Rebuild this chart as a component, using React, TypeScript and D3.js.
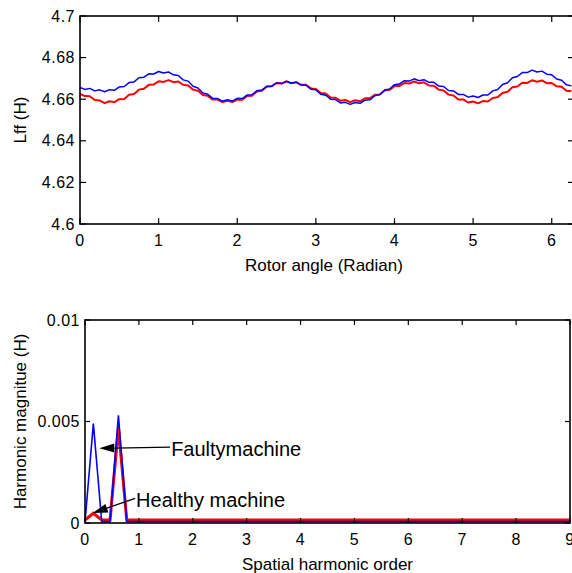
import React from 'react';
import * as d3 from 'd3';

// ---------- Top panel: field self-inductance vs rotor angle ----------
const angleStep = 0.0625; // rad between samples
const lffFaulty = [
  4.6656, 4.6647, 4.6652, 4.6640, 4.6645, 4.6636, 4.6646, 4.6643, 4.6659, 4.6661,
  4.6680, 4.6683, 4.6703, 4.6706, 4.6722, 4.6721, 4.6733, 4.6726, 4.6731, 4.6717,
  4.6714, 4.6693, 4.6687, 4.6662, 4.6654, 4.6630, 4.6624, 4.6604, 4.6603, 4.6590,
  4.6597, 4.6591, 4.6604, 4.6603, 4.6620, 4.6622, 4.6641, 4.6644, 4.6662, 4.6663,
  4.6678, 4.6675, 4.6686, 4.6677, 4.6682, 4.6668, 4.6667, 4.6648, 4.6645, 4.6624,
  4.6619, 4.6600, 4.6598, 4.6582, 4.6585, 4.6575, 4.6584, 4.6580, 4.6595, 4.6597,
  4.6617, 4.6622, 4.6644, 4.6649, 4.6670, 4.6673, 4.6689, 4.6687, 4.6698, 4.6689,
  4.6694, 4.6681, 4.6681, 4.6663, 4.6661, 4.6642, 4.6640, 4.6623, 4.6623, 4.6610,
  4.6615, 4.6608, 4.6620, 4.6620, 4.6640, 4.6647, 4.6671, 4.6679, 4.6703, 4.6709,
  4.6728, 4.6728, 4.6740, 4.6731, 4.6735, 4.6720, 4.6717, 4.6697, 4.6691, 4.6669,
  4.6664,
];
const lffHealthy = [
  4.6626, 4.6615, 4.6614, 4.6596, 4.6594, 4.6581, 4.6590, 4.6586, 4.6600, 4.6601,
  4.6621, 4.6625, 4.6646, 4.6650, 4.6669, 4.6671, 4.6686, 4.6683, 4.6692, 4.6682,
  4.6685, 4.6669, 4.6666, 4.6646, 4.6641, 4.6620, 4.6616, 4.6598, 4.6598, 4.6586,
  4.6592, 4.6586, 4.6598, 4.6597, 4.6615, 4.6617, 4.6637, 4.6641, 4.6660, 4.6662,
  4.6678, 4.6675, 4.6686, 4.6677, 4.6682, 4.6669, 4.6669, 4.6652, 4.6649, 4.6630,
  4.6627, 4.6608, 4.6607, 4.6593, 4.6596, 4.6586, 4.6595, 4.6590, 4.6604, 4.6604,
  4.6621, 4.6623, 4.6642, 4.6645, 4.6663, 4.6663, 4.6678, 4.6675, 4.6685, 4.6676,
  4.6681, 4.6666, 4.6665, 4.6646, 4.6642, 4.6622, 4.6618, 4.6599, 4.6599, 4.6584,
  4.6589, 4.6580, 4.6591, 4.6589, 4.6606, 4.6610, 4.6630, 4.6636, 4.6657, 4.6661,
  4.6679, 4.6678, 4.6691, 4.6684, 4.6690, 4.6677, 4.6678, 4.6662, 4.6660, 4.6641,
  4.6638,
];
const topXTicks = [0, 1, 2, 3, 4, 5, 6];
const topYTicks = [4.6, 4.62, 4.64, 4.66, 4.68, 4.7];
const topYTickLabels = ['4.6', '4.62', '4.64', '4.66', '4.68', '4.7'];

// ---------- Bottom panel: harmonic spectrum ----------
const harmonicOrder = [0, 0.155, 0.31, 0.465, 0.62, 0.775, 9];
const faultyMagnitude = [0.00005, 0.0049, 0.00007, 0.00007, 0.0053, 0.00007, 0.00007];
const healthyMagnitude = [0.00015, 0.00048, 0.00015, 0.00015, 0.0047, 0.00015, 0.00015];
const bottomXTicks = [0, 1, 2, 3, 4, 5, 6, 7, 8, 9];
const bottomYTicks = [0, 0.005, 0.01];
const bottomYTickLabels = ['0', '0.005', '0.01'];

const annotationLabels = ['Faultymachine', 'Healthy machine'];
const annotationTextAt = [[1.58, 0.00374], [0.93, 0.00121]];
const annotationTipAt = [[0.265, 0.00368], [0.143, 0.00049]];

const FONT = "'Liberation Sans', Arial, Helvetica, sans-serif";
const BLUE = '#0000ff';
const RED = '#ff0000';

function Frame({ x, y, xTicks, yTicks, yLabels, tickLen = 5 }: any) {
  const [x0, x1] = x.range();
  const [y0, y1] = y.range(); // y0 bottom, y1 top
  return (
    <g>
      {xTicks.map((t: number) => (
        <g key={'xt' + t}>
          <line x1={x(t)} x2={x(t)} y1={y0} y2={y0 - tickLen} stroke="#000" strokeWidth={1.2} />
          <line x1={x(t)} x2={x(t)} y1={y1} y2={y1 + tickLen} stroke="#000" strokeWidth={1.2} />
          <text x={x(t)} y={y0 + 22} textAnchor="middle" fontSize={16} fontFamily={FONT} letterSpacing={0.5}>{t}</text>
        </g>
      ))}
      {yTicks.map((t: number, i: number) => (
        <g key={'yt' + t}>
          <line x1={x0} x2={x0 + tickLen} y1={y(t)} y2={y(t)} stroke="#000" strokeWidth={1.2} />
          <line x1={x1} x2={x1 - tickLen} y1={y(t)} y2={y(t)} stroke="#000" strokeWidth={1.2} />
          <text x={x0 - 5} y={y(t)} dy="0.35em" textAnchor="end" fontSize={16} fontFamily={FONT} letterSpacing={0.5}>{yLabels[i]}</text>
        </g>
      ))}
      <rect x={x0} y={y1} width={x1 - x0} height={y0 - y1} fill="none" stroke="#000" strokeWidth={1.6} />
    </g>
  );
}

export default function App() {
  // Top scales
  const xTop = d3.scaleLinear().domain([0, 2 * Math.PI]).range([80, 574]);
  const yTop = d3.scaleLinear().domain([4.6, 4.7]).range([224, 16]);
  const lineTop = d3.line<number>().x((_, i) => xTop(i * angleStep)).y((d) => yTop(d));

  // Bottom scales
  const xBot = d3.scaleLinear().domain([0, 9]).range([85, 570]);
  const yBot = d3.scaleLinear().domain([0, 0.01]).range([523, 320]);
  const lineBot = d3.line<number>().x((_, i) => xBot(harmonicOrder[i])).y((d) => yBot(d));

  const arrows = annotationLabels.map((label, i) => {
    const sx = xBot(annotationTextAt[i][0]);
    const sy = yBot(annotationTextAt[i][1]);
    const tx = xBot(annotationTipAt[i][0]);
    const ty = yBot(annotationTipAt[i][1]);
    const dx = tx - sx, dy = ty - sy;
    const len = Math.hypot(dx, dy);
    const ux = dx / len, uy = dy / len;
    const hl = 15, hw = 4.5;
    const bx = tx - ux * hl, by = ty - uy * hl;
    const pts = [
      [tx, ty],
      [bx - uy * hw, by + ux * hw],
      [bx + uy * hw, by - ux * hw],
    ];
    return { label, sx, sy, bx, by, pts };
  });

  return (
    <svg width={572} height={573} style={{ position: 'absolute', left: 0, top: 0, background: '#fff' }}>
      <rect x={0} y={0} width={572} height={573} fill="#fff" />
      {/* Top panel */}
      <path d={lineTop(lffHealthy) || ''} fill="none" stroke={RED} strokeWidth={2} strokeLinejoin="round" />
      <path d={lineTop(lffFaulty) || ''} fill="none" stroke={BLUE} strokeWidth={1.5} strokeLinejoin="round" />
      <Frame x={xTop} y={yTop} xTicks={topXTicks} yTicks={topYTicks} yLabels={topYTickLabels} tickLen={6} />
      <text x={(80 + 574) / 2 - 3} y={271} textAnchor="middle" fontSize={17} fontFamily={FONT}>Rotor angle (Radian)</text>
      <text transform={`translate(26,${(16 + 224) / 2}) rotate(-90)`} textAnchor="middle" fontSize={17} fontFamily={FONT}>Lff (H)</text>

      {/* Bottom panel */}
      <path d={lineBot(healthyMagnitude) || ''} fill="none" stroke={RED} strokeWidth={3} strokeLinejoin="miter" />
      <path d={lineBot(faultyMagnitude) || ''} fill="none" stroke={BLUE} strokeWidth={1.6} strokeLinejoin="miter" />
      <Frame x={xBot} y={yBot} xTicks={bottomXTicks} yTicks={bottomYTicks} yLabels={bottomYTickLabels} tickLen={5} />
      <text x={(85 + 570) / 2} y={570} textAnchor="middle" fontSize={17} fontFamily={FONT}>Spatial harmonic order</text>
      <text transform={`translate(26,${(320 + 523) / 2}) rotate(-90)`} textAnchor="middle" fontSize={17} fontFamily={FONT}>Harmonic magnitue (H)</text>

      {arrows.map((a) => (
        <g key={a.label}>
          <line x1={a.sx} y1={a.sy} x2={a.bx} y2={a.by} stroke="#000" strokeWidth={1.3} />
          <polygon points={a.pts.map((p) => p.join(',')).join(' ')} fill="#000" />
          <text x={a.sx + 1} y={a.sy + 8.5} fontSize={20} fontFamily={FONT}>{a.label}</text>
        </g>
      ))}
    </svg>
  );
}
